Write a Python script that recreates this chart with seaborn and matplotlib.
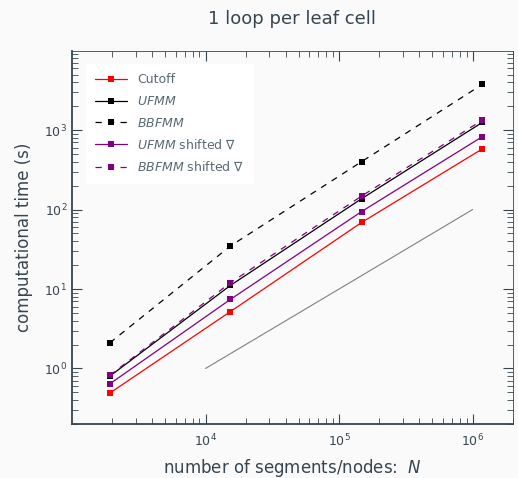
import numpy as np
import pandas as pd
import seaborn as sns
import matplotlib.pyplot as plt
from matplotlib.ticker import LogLocator, NullFormatter

# data
n_segments = [1920, 15360, 147456, 1179648]
t_cutoff = [0.49, 5.2, 68.8, 579]
t_ufmm = [0.80, 11.1, 137, 1248]
t_bbfmm = [2.1, 34.8, 401, 3758]
t_ufmm_shift = [0.64, 7.4, 94.4, 825]
t_bbfmm_shift = [0.82, 12.0, 148, 1334]
ref_x = [1e4, 1e6]
ref_y = [1, 100]

txt = '#36454f'
sns.set_style('ticks')
plt.rcParams['font.family'] = ['DejaVu Sans']
plt.rcParams['mathtext.fontset'] = 'dejavusans'
plt.rcParams['text.color'] = txt
plt.rcParams['axes.labelcolor'] = txt
plt.rcParams['xtick.color'] = txt
plt.rcParams['ytick.color'] = txt
plt.rcParams['axes.edgecolor'] = txt

fig = plt.figure(figsize=(5.18, 4.78), dpi=100, facecolor='#fafafa')
ax = fig.add_axes([0.139, 0.113, 0.851, 0.781])
ax.set_facecolor('#fafafa')

series = [
    ('Cutoff', t_cutoff, 'red', '-'),
    (r'$\mathit{UFMM}$', t_ufmm, 'black', '-'),
    (r'$\mathit{BBFMM}$', t_bbfmm, 'black', '--'),
    (r'$\mathit{UFMM}$ shifted $\nabla$', t_ufmm_shift, 'purple', '-'),
    (r'$\mathit{BBFMM}$ shifted $\nabla$', t_bbfmm_shift, 'purple', '--'),
]
for label, vals, col, ls in series:
    df = pd.DataFrame({'N': n_segments, 't': vals})
    sns.lineplot(data=df, x='N', y='t', ax=ax, color=col, linestyle=ls, lw=0.9,
                 marker='s', markersize=4, markeredgewidth=0, label=label)
    if ls == '--':
        ax.lines[-1].set_dashes((5, 5))

ax.plot(ref_x, ref_y, color='grey', lw=0.8)

ax.set_xscale('log')
ax.set_yscale('log')
ax.set_xlim(1000, 2e6)
ax.set_ylim(0.2, 1e4)
ax.set_yticks([1, 10, 100, 1000])
ax.set_xticks([1e4, 1e5, 1e6])
ax.xaxis.set_minor_locator(LogLocator(base=10, subs=np.arange(2, 10)))
ax.yaxis.set_minor_locator(LogLocator(base=10, subs=np.arange(2, 10)))
ax.xaxis.set_minor_formatter(NullFormatter())
ax.yaxis.set_minor_formatter(NullFormatter())
ax.tick_params(which='both', direction='in', top=True, right=True, labelsize=9)
ax.tick_params(which='major', length=7, width=0.8)
ax.tick_params(which='minor', length=4, width=0.6)
ax.tick_params(axis='x', which='major', pad=6)
for s in ['left', 'bottom']:
    ax.spines[s].set_linewidth(1.3)
for s in ['top', 'right']:
    ax.spines[s].set_linewidth(0.6)

ax.set_xlabel(r'number of segments/nodes:  $N$', fontsize=12, labelpad=6)
ax.set_ylabel('computational time (s)', fontsize=12, labelpad=8)
ax.set_title('1 loop per leaf cell', fontsize=13, pad=19)

leg = ax.legend(loc='upper left', fontsize=9, frameon=True, fancybox=False,
                handlelength=2.6, borderpad=0.7, labelspacing=0.7,
                borderaxespad=1.1)
leg.get_frame().set_facecolor('white')
leg.get_frame().set_edgecolor('white')
leg.get_frame().set_alpha(1)
for t in leg.get_texts():
    t.set_color('#5a6a72')

fig.savefig('out.png', dpi=100, facecolor=fig.get_facecolor())
